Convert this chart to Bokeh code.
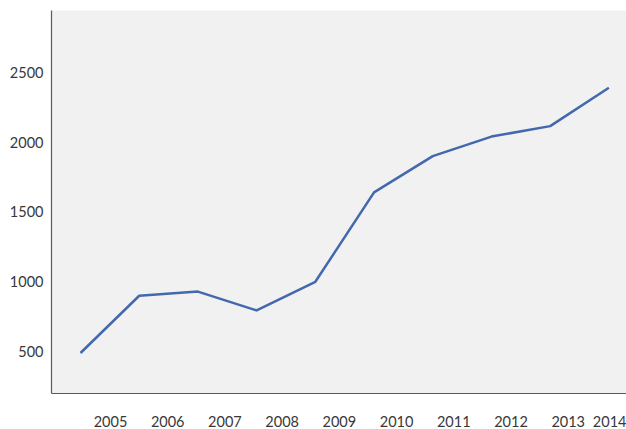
from bokeh.plotting import figure
from bokeh.models import Range1d, FixedTicker
from bokeh.embed import file_html
from bokeh.resources import INLINE

# Yearly series
years = [2005, 2006, 2007, 2008, 2009, 2010, 2011, 2012, 2013, 2014]
values = [490, 900, 930, 795, 1000, 1640, 1900, 2040, 2115, 2390]
y_ticks = [500, 1000, 1500, 2000, 2500]

p = figure(width=626, height=429, output_backend="svg", toolbar_location=None,
           x_range=Range1d(years[0] - 0.494, years[0] + 9.30),
           y_range=Range1d(200, 2943))

p.min_border_left = 51
p.min_border_right = 0
p.min_border_top = 10
p.min_border_bottom = 36
p.background_fill_color = "#f1f1f1"
p.border_fill_color = "white"
p.outline_line_color = None
p.grid.grid_line_color = None

p.line(years, values, line_color="#4468ad", line_width=2.5, line_join="round")

TEXT_FONT = "Lato"
TEXT_SIZE = "14.5px"
TEXT_COLOR = "#383838"

# Year labels sit between data points, slightly compressed
tick_pos = [y + 0.511 - 0.0255 * (y - years[0]) for y in years]
p.xaxis.ticker = FixedTicker(ticks=tick_pos)
p.xaxis.major_label_overrides = {t: str(y) for t, y in zip(tick_pos, years)}
p.xaxis.major_label_standoff = 22

p.yaxis.ticker = FixedTicker(ticks=y_ticks)
p.yaxis.major_label_standoff = 8

for ax in (p.xaxis[0], p.yaxis[0]):
    ax.axis_line_color = "#5a5a5a"
    ax.axis_line_width = 1.2
    ax.major_tick_line_color = None
    ax.minor_tick_line_color = None
    ax.major_tick_out = 0
    ax.major_tick_in = 0
    ax.major_label_text_font = TEXT_FONT
    ax.major_label_text_font_size = TEXT_SIZE
    ax.major_label_text_color = TEXT_COLOR

open("out.html", "w").write(file_html(p, INLINE))
